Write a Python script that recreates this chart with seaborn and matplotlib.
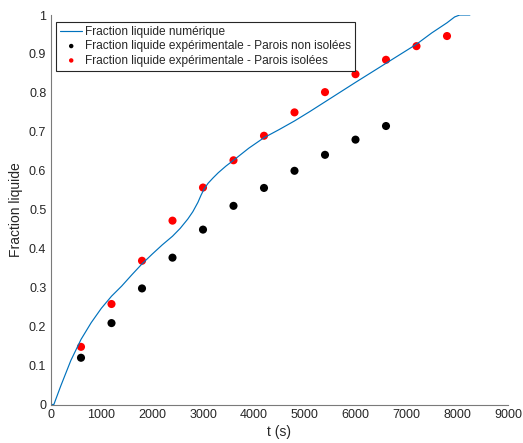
import numpy as np
import pandas as pd
import matplotlib
matplotlib.use("Agg")
import matplotlib.pyplot as plt
import seaborn as sns

# Numerical curve
t_num = [0, 66, 200, 400, 600, 800, 1000, 1200, 1400, 1600, 1800, 2000, 2200,
         2400, 2550, 2700, 2800, 2900, 2960, 3020, 3100, 3200, 3300, 3450, 3600,
         3900, 4200, 4500, 4800, 5100, 5400, 6000, 6600, 7200, 7500, 7800, 7950,
         8050, 8250]
f_num = [0, 0, 0.047, 0.113, 0.167, 0.21, 0.247, 0.278, 0.304, 0.333, 0.361,
         0.386, 0.41, 0.432, 0.452, 0.476, 0.495, 0.519, 0.537, 0.553, 0.568,
         0.582, 0.595, 0.612, 0.627, 0.658, 0.685, 0.706, 0.728, 0.752, 0.777,
         0.827, 0.876, 0.925, 0.954, 0.98, 0.995, 1.0, 1.0]

# Experimental: non-insulated walls
t_non = [600, 1200, 1800, 2400, 3000, 3600, 4200, 4800, 5400, 6000, 6600]
f_non = [0.12, 0.209, 0.298, 0.377, 0.449, 0.51, 0.556, 0.60, 0.641, 0.68, 0.715]

# Experimental: insulated walls
t_iso = [600, 1200, 1800, 2400, 3000, 3600, 4200, 4800, 5400, 6000, 6600, 7200, 7800]
f_iso = [0.148, 0.258, 0.369, 0.472, 0.557, 0.627, 0.69, 0.75, 0.802, 0.848,
         0.885, 0.92, 0.946]

xticks = [0, 1000, 2000, 3000, 4000, 5000, 6000, 7000, 8000, 9000]
yticks = [0, 0.1, 0.2, 0.3, 0.4, 0.5, 0.6, 0.7, 0.8, 0.9, 1]
ytick_labels = ["0", "0.1", "0.2", "0.3", "0.4", "0.5", "0.6", "0.7", "0.8", "0.9", "1"]

sns.set_style("white")
plt.rcParams['font.family'] = ['Liberation Sans', 'DejaVu Sans']

fig = plt.figure(figsize=(5.23, 4.43), dpi=100)
ax = fig.add_axes([50.5/523, 1 - 404.5/443, 457.5/523, (404.5 - 15)/443])

df_num = pd.DataFrame({"t": t_num, "f": f_num})
df_non = pd.DataFrame({"t": t_non, "f": f_non})
df_iso = pd.DataFrame({"t": t_iso, "f": f_iso})

sns.lineplot(data=df_num, x="t", y="f", ax=ax, color="#0072BD", lw=0.85,
             label="Fraction liquide numérique")
sns.scatterplot(data=df_non, x="t", y="f", ax=ax, color="black", s=34,
                edgecolor="none", label="Fraction liquide expérimentale - Parois non isolées")
sns.scatterplot(data=df_iso, x="t", y="f", ax=ax, color="red", s=34,
                edgecolor="none", label="Fraction liquide expérimentale - Parois isolées")

ax.set_xlim(0, 9000)
ax.set_ylim(0, 1)
ax.set_xticks(xticks)
ax.set_xticklabels([str(v) for v in xticks])
ax.set_yticks(yticks)
ax.set_yticklabels(ytick_labels)

tc = "#262626"
for side in ["top", "right"]:
    ax.spines[side].set_visible(False)
for side in ["left", "bottom"]:
    ax.spines[side].set_color("#7a7a7a")
    ax.spines[side].set_linewidth(0.8)
ax.tick_params(axis="both", direction="in", length=4, width=0.8, color="#7a7a7a",
               labelsize=9, labelcolor=tc, pad=3)
ax.set_xlabel("t (s)", fontsize=10, color=tc, labelpad=3)
ax.set_ylabel("Fraction liquide", fontsize=10, color=tc, labelpad=4)

leg = ax.legend(loc="upper left", bbox_to_anchor=(0.012, 0.983), fontsize=8.6,
                frameon=True, fancybox=False, framealpha=1, edgecolor="#262626",
                handlelength=1.85, handletextpad=0.2, borderpad=0.35,
                labelspacing=0.2, borderaxespad=0, markerscale=0.55)
leg.get_frame().set_linewidth(0.8)
for txt in leg.get_texts():
    txt.set_color(tc)

fig.savefig("out.png", dpi=100)
